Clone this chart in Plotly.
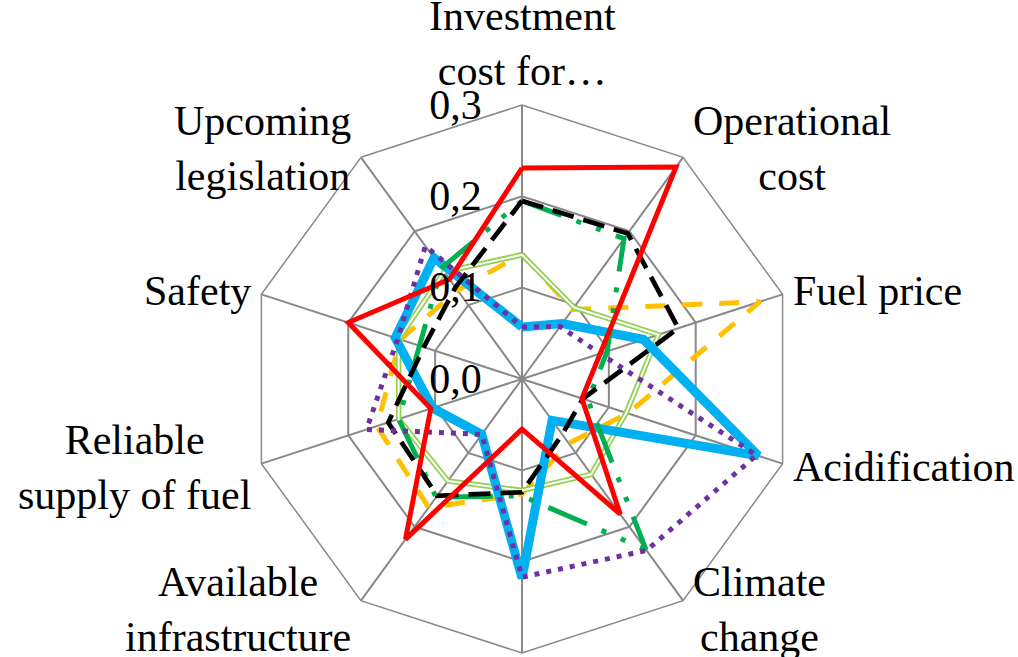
import math
import plotly.graph_objects as go

categories = [
    "Investment<br>cost for…",
    "Operational<br>cost",
    "Fuel price",
    "Acidification",
    "Climate<br>change",
    "Eutrophication",
    "Available<br>infrastructure",
    "Reliable<br>supply of fuel",
    "Safety",
    "Upcoming<br>legislation",
]

yellow_vals = [0.137, 0.094, 0.274, 0.122, 0.087, 0.126, 0.174, 0.167, 0.140, 0.120]
lightgreen_vals = [0.136, 0.097, 0.157, 0.120, 0.129, 0.122, 0.138, 0.142, 0.142, 0.145]
blue_vals = [0.057, 0.075, 0.140, 0.272, 0.056, 0.218, 0.075, 0.103, 0.146, 0.164]
green_vals = [0.195, 0.190, 0.098, 0.076, 0.231, 0.128, 0.160, 0.142, 0.118, 0.150]
black_vals = [0.195, 0.197, 0.180, 0.070, 0.075, 0.124, 0.158, 0.154, 0.113, 0.124]
purple_vals = [0.057, 0.071, 0.090, 0.270, 0.232, 0.217, 0.075, 0.179, 0.143, 0.180]
red_vals = [0.231, 0.287, 0.090, 0.069, 0.183, 0.055, 0.217, 0.105, 0.200, 0.135]

radial_ticks = [0.0, 0.1, 0.2, 0.3]

FONT = "Liberation Serif, Times New Roman, serif"
GRID = "#898989"

W, H = 1018, 657
ML, MR, MT, MB = 122, 96, 105, 4
PW, PH = W - ML - MR, H - MT - MB
CX, CY = ML + PW / 2, MT + PH / 2
RAD = min(PW, PH) / 2
LABEL_PAD = 8


def closed(vals):
    return list(vals) + [vals[0]]


theta_closed = closed(categories)

fig = go.Figure()


def add(vals, color, width, dash="solid", name=""):
    fig.add_trace(go.Scatterpolar(
        r=closed(vals), theta=theta_closed, mode="lines", name=name,
        line=dict(color=color, width=width, dash=dash),
        hoverinfo="skip", showlegend=False,
    ))


add(yellow_vals, "#FFC000", 5, "20px,17px", "Yellow")
add(lightgreen_vals, "#92D050", 5.5, "solid", "Light green")
add(lightgreen_vals, "#FFFFFF", 2, "solid", "Light green (inner)")
add(blue_vals, "#00B0F0", 9, "solid", "Blue")
add(green_vals, "#00B050", 5, "42px,16px,5px,16px,5px,16px", "Green")
add(black_vals, "#000000", 4.7, "22px,10px", "Black")
add(purple_vals, "#7030A0", 5, "5px,7px", "Purple")
add(red_vals, "#FF0000", 5, "solid", "Red")

# category labels placed just outside each vertex of the outer ring
annotations = []
n = len(categories)
for i, cat in enumerate(categories):
    a = 2 * math.pi * i / n
    s, c = math.sin(a), math.cos(a)
    vx = CX + RAD * s
    vy = CY - RAD * c
    if c < -0.95:
        continue  # bottom label lies outside the visible picture
    if s > 0.1:
        xa, px = "left", vx + LABEL_PAD
        py = vy - 11 * c
    elif s < -0.1:
        xa, px = "right", vx - LABEL_PAD
        py = vy - 11 * c
    else:
        xa, px = "center", vx
        py = vy - 62
    annotations.append(dict(
        text=cat, showarrow=False, xref="paper", yref="paper",
        x=(px - ML) / PW, y=(H - MB - py) / PH,
        xanchor=xa, yanchor="middle", align="center",
        font=dict(family=FONT, size=42, color="black"),
    ))

fig.update_layout(
    width=W, height=H,
    margin=dict(l=ML, r=MR, t=MT, b=MB),
    paper_bgcolor="white", plot_bgcolor="white",
    separators=", ",
    font=dict(family=FONT, size=42, color="black"),
    showlegend=False,
    annotations=annotations,
    polar=dict(
        bgcolor="white",
        gridshape="linear",
        angularaxis=dict(
            type="category",
            categoryarray=categories,
            direction="clockwise",
            rotation=90,
            showgrid=True, gridcolor=GRID, gridwidth=1.5,
            showline=True, linecolor=GRID, linewidth=1.5,
            ticks="",
            showticklabels=False,
        ),
        radialaxis=dict(
            range=[0, 0.3],
            tickvals=radial_ticks,
            tickformat=".1f",
            angle=90,
            side="counterclockwise",
            tickangle=90,
            ticks="outside", ticklen=25, tickcolor="rgba(0,0,0,0)",
            showline=False,
            showgrid=True, gridcolor=GRID, gridwidth=1.5,
            tickfont=dict(family=FONT, size=42, color="black"),
            layer="above traces",
        ),
    ),
)

fig.write_html("out.html")
